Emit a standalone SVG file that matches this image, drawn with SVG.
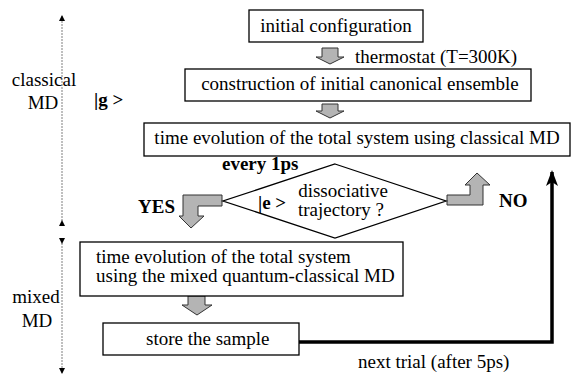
<svg xmlns="http://www.w3.org/2000/svg" width="571" height="374" viewBox="0 0 571 374">
<style>
text{font-family:"Liberation Serif","Times New Roman",serif;font-size:19px;fill:#000}
.b{font-weight:bold}
.box{fill:#fff;stroke:#000;stroke-width:1.3}
.g{fill:#b4b4b4;stroke:#333;stroke-width:1}
.ax{stroke:#aaa;stroke-width:1.5;stroke-dasharray:2,1;fill:none}
</style>
<defs>
<marker id="sa" viewBox="0 0 6 8" refX="5" refY="4" markerWidth="6" markerHeight="8" markerUnits="userSpaceOnUse" orient="auto">
<path d="M0,1 L6,4 L0,7 Z" fill="#000"/>
</marker>
<marker id="ba" viewBox="0 0 16 12" refX="14" refY="6" markerWidth="16" markerHeight="12" markerUnits="userSpaceOnUse" orient="auto">
<path d="M0,0 L16,6 L0,12 L4,6 Z" fill="#000"/>
</marker>
</defs>
<rect width="571" height="374" fill="#fff"/>
<g id="axes">
<line class="ax" x1="62" y1="221" x2="62" y2="16" marker-start="url(#sa)" marker-end="url(#sa)"/>
<line class="ax" x1="62" y1="243" x2="62" y2="373" marker-start="url(#sa)" marker-end="url(#sa)"/>
<text x="44" y="86" text-anchor="middle">classical</text>
<text x="43" y="109" text-anchor="middle">MD</text>
<text x="36" y="303" text-anchor="middle">mixed</text>
<text x="37" y="327" text-anchor="middle">MD</text>
<text class="b" x="94" y="106">|g &gt;</text>
</g>
<g id="connectors">
<path class="g" d="M322,48 L338,48 L338,57 L344,57 L330,64 L316,57 L322,57 Z"/>
<path class="g" d="M322,104 L338,104 L338,111 L344,111 L330,118 L316,111 L322,111 Z"/>
<path class="g" d="M222,195 L183,195 L183,216 L179,216 L191,228 L204,216 L198,216 L198,206 L222,206 Z"/>
<path class="g" d="M447,195 L470,195 L470,185 L465,185 L477,173 L490,185 L483,185 L483,205 L447,205 Z"/>
<path class="g" d="M188,296 L205,296 L205,305 L212,305 L197,315 L182,305 L188,305 Z"/>
<polyline points="298,342 552,342 552,172" fill="none" stroke="#000" stroke-width="3.5" marker-end="url(#ba)"/>
<text x="355" y="63">thermostat (T=300K)</text>
<text class="b" x="138" y="213">YES</text>
<text class="b" x="499" y="207">NO</text>
<text x="358" y="368">next trial (after 5ps)</text>
</g>
<g id="n-initial">
<rect class="box" x="249" y="10" width="174" height="32"/>
<text x="336" y="32" text-anchor="middle">initial configuration</text>
</g>
<g id="n-construction">
<rect class="box" x="185" y="69" width="346" height="32"/>
<text x="360" y="90" text-anchor="middle">construction of initial canonical ensemble</text>
</g>
<g id="n-classical">
<rect class="box" x="144" y="123" width="426" height="33"/>
<text x="357" y="144" text-anchor="middle">time evolution of the total system using classical MD</text>
</g>
<g id="n-decision">
<polygon points="335,164 446,201 335,238 223,201" fill="#fff" stroke="#000" stroke-width="1.3"/>
<text class="b" x="222" y="170">every 1ps</text>
<text x="343" y="197" text-anchor="middle">dissociative</text>
<text x="341" y="216" text-anchor="middle">trajectory ?</text>
<text class="b" x="258" y="209">|e &gt;</text>
</g>
<g id="n-mixed">
<rect class="box" x="80" y="242" width="323" height="54"/>
<text x="96" y="263">time evolution of the total system</text>
<text x="96" y="282">using the mixed quantum-classical MD</text>
</g>
<g id="n-store">
<rect class="box" x="103" y="323" width="196" height="32"/>
<text x="146" y="345">store the sample</text>
</g>
</svg>
